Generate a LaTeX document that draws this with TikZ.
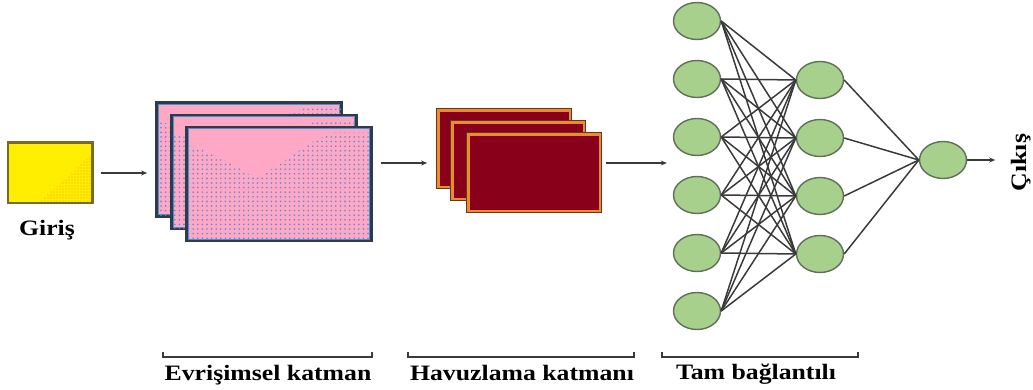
\documentclass[tikz,border=0pt]{standalone}
\usepackage{fontspec}
\setmainfont{Liberation Serif}
\usetikzlibrary{arrows.meta,patterns,patterns.meta,shapes.geometric}

\definecolor{inyellow}{HTML}{FFEE00}
\definecolor{inedge}{HTML}{7A6A2A}
\definecolor{indots}{HTML}{F2A000}
\definecolor{sheetpink}{HTML}{FFA8C6}
\definecolor{sheetedge}{HTML}{2E3B48}
\definecolor{sheetblue}{HTML}{4A8FD0}
\definecolor{dotblue}{HTML}{4F8FD6}
\definecolor{poolred}{HTML}{88001A}
\definecolor{poolorange}{HTML}{F08A30}
\definecolor{pooledge}{HTML}{5A3A22}
\definecolor{neurongreen}{HTML}{A8D08D}
\definecolor{neuronedge}{HTML}{5F6F58}
\definecolor{wire}{HTML}{3A3A3A}

% labels are set in a bold serif, widened horizontally
\newcommand\widetext[1]{\scalebox{1.17}[1]{#1}}

\tikzset{
  lbl/.style={font=\fontsize{22}{22}\selectfont\bfseries, inner sep=0pt, anchor=base},
  arr/.style={draw=wire, line width=1.4pt, -{Stealth[length=6pt,width=5pt]}},
  wirestyle/.style={draw=wire, line width=1.5pt},
  bracketline/.style={draw=wire, line width=1.2pt},
  neuron/.style={ellipse, draw=neuronedge, line width=1.4pt, fill=neurongreen,
                 minimum width=47pt, minimum height=37pt, inner sep=0pt},
  inbox/.style={draw=inedge, line width=1.5pt, fill=inyellow,
                minimum width=84pt, minimum height=60pt, inner sep=0pt},
  sheet/.style={draw=sheetedge, line width=1.8pt, fill=sheetpink,
                minimum width=184pt, minimum height=113pt, inner sep=0pt},
  poolsheet/.style={draw=pooledge, line width=0.8pt, fill=poolorange,
                minimum width=135pt, minimum height=80pt, inner sep=0pt},
}

% one feature map: pink sheet, dotted lower band, blue inner rim
\newcommand\featuremap[3]{%
  \node[sheet] (#1) at (#2,#3) {};
  \begin{scope}
    \clip ([shift={(1,1)}]#1.north west) rectangle ([shift={(-1,-1)}]#1.south east);
    \fill[pattern={Dots[distance=4.6pt, radius=0.9pt]}, pattern color=dotblue]
      ([shift={(0,18)}]#1.north west) .. controls ([shift={(40,30)}]#1.north west) and ([shift={(55,45)}]#1.north west)
      .. ([shift={(70,51)}]#1.north west) .. controls ([shift={(95,40)}]#1.north west) and ([shift={(125,10)}]#1.north west)
      .. ([shift={(150,6)}]#1.north west) -- ([shift={(0,6)}]#1.north east)
      -- (#1.south east) -- (#1.south west) -- cycle;
  \end{scope}
  \draw[sheetblue, line width=1.2pt]
    ([shift={(2.2,2.2)}]#1.north west) rectangle ([shift={(-2.2,-2.2)}]#1.south east);
  \draw[sheetedge, line width=1.6pt] (#1.north west) rectangle (#1.south east);
}

% one pooled map: orange rim around a dark red field
\newcommand\pooledmap[3]{%
  \node[poolsheet] (#1) at (#2,#3) {};
  \fill[poolred] ([shift={(4,4)}]#1.north west) rectangle ([shift={(-2.5,-2.5)}]#1.south east);
}

\begin{document}
\begin{tikzpicture}[x=1pt, y=-1pt]
  \useasboundingbox (0,0) rectangle (1033,390);

  % input image
  \node[inbox] (in) at (50,173) {};
  \begin{scope}
    \clip ([shift={(1,1)}]in.north west) rectangle ([shift={(-1,-1)}]in.south east);
    \fill[pattern={Dots[distance=3pt, radius=0.7pt]}, pattern color=indots]
      ([shift={(-55,0)}]in.south east) -- (in.south east) -- ([shift={(0,-50)}]in.south east) -- cycle;
  \end{scope}
  \draw[inedge, line width=1.5pt] (in.north west) rectangle (in.south east);
  \node[lbl] (ingiris) at (47,236) {\widetext{Giriş}};

  % convolution layer
  \featuremap{c1}{249}{159.5}
  \featuremap{c2}{264}{172}
  \featuremap{c3}{279}{184}

  % pooling layer
  \pooledmap{p1}{504}{148}
  \pooledmap{p2}{518}{160}
  \pooledmap{p3}{533.5}{172}

  % fully connected layer
  \foreach \i/\y in {1/21,2/79,3/137,4/195,5/253,6/311}
    \node[neuron] (l\i) at (697,\y) {};
  \foreach \i/\y in {1/80,2/138,3/196,4/254}
    \node[neuron] (m\i) at (820,\y) {};
  \node[neuron] (o) at (943,160) {};

  \foreach \j in {1,...,6}
    \foreach \i in {1,...,4}
      \draw[wirestyle] (l\j.east) -- (m\i.west);
  \foreach \i in {1,...,4}
    \draw[wirestyle] (m\i.east) -- (o.west);

  % flow arrows
  \draw[arr, shorten <=8pt, shorten >=9pt] (in.east) -- (in.east -| c1.west);
  \draw[arr, shorten <=9pt, shorten >=9pt] (c3.east |- 0,163) -- (p1.west |- 0,163);
  \draw[arr, shorten <=5pt, shorten >=6pt] (p3.east |- 0,163) -- (l4.west |- 0,163);
  \draw[arr] (o.east) -- ++(28,0) coordinate (outtip);
  \node[lbl, rotate=90] (cikis) at (1026,162.5) {\widetext{Çıkış}};

  % layer brackets and captions
  \draw[bracketline] (163,352) -- (163,357) -- (372,357) -- (372,352);
  \node[lbl] (convlbl) at (268,380) {\widetext{Evrişimsel katman}};
  \draw[bracketline] (408,352) -- (408,357) -- (634,357) -- (634,352);
  \node[lbl] (poollbl) at (522,380) {\widetext{Havuzlama katmanı}};
  \draw[bracketline] (662,352) -- (662,357) -- (858,357) -- (858,352);
  \node[lbl] (fclbl) at (756,379) {\widetext{Tam bağlantılı}};
\end{tikzpicture}
\end{document}
